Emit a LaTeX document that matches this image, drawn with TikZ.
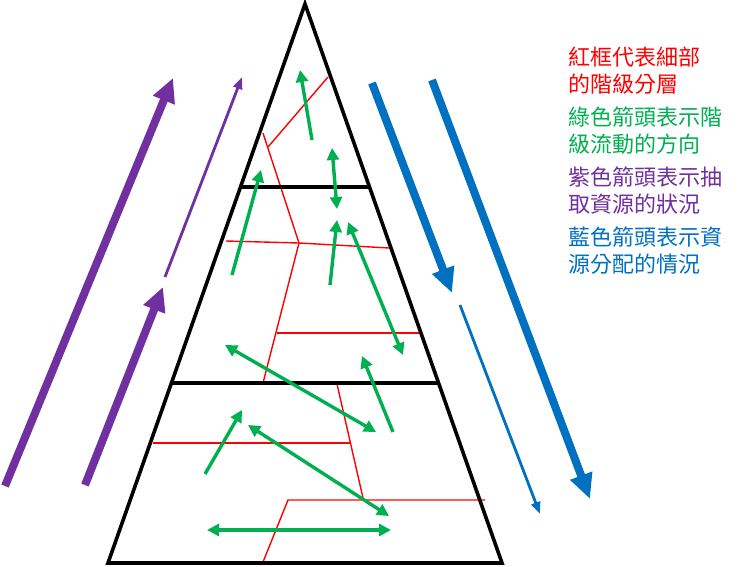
\documentclass[tikz,border=0pt]{standalone}
\usepackage{fontspec}
\newfontfamily\cjk{Noto Sans CJK TC}
\usetikzlibrary{arrows.meta}

\definecolor{detailred}{RGB}{255,0,0}
\definecolor{flowgreen}{RGB}{0,176,80}
\definecolor{takepurple}{RGB}{112,48,160}
\definecolor{giveblue}{RGB}{0,112,192}

\begin{document}
\begin{tikzpicture}[
        x=1pt, y=-1pt,
        level_line/.style={line width=3.6pt, black},
        detail_line/.style={line width=1.4pt, detailred},
        flow/.style={line width=3.4pt, flowgreen, -{Triangle[width=12pt,length=12pt]}},
        flow_both/.style={flow, {Triangle[width=12pt,length=12pt]}-{Triangle[width=12pt,length=12pt]}},
        take_big/.style={line width=8pt, takepurple, -{Triangle[width=22pt,length=24pt]}},
        take_small/.style={line width=2.8pt, takepurple, -{Triangle[width=9pt,length=12pt]}},
        give_big/.style={line width=8pt, giveblue, -{Triangle[width=22pt,length=25pt]}},
        give_small/.style={line width=2.8pt, giveblue, -{Triangle[width=9pt,length=12pt]}},
        legend/.style={anchor=west, align=left, inner sep=0pt, font=\cjk\fontsize{22}{27}\selectfont}
    ]
        \useasboundingbox (0,0) rectangle (740,566);

        % red detail lines
        \draw[detail_line] (328,77) -- (268,147);
        \draw[detail_line] (263,133) -- (299,243) -- (263,383);
        \draw[detail_line] (226,241) -- (299,243) -- (389,248);
        \draw[detail_line] (277,333) -- (422,333);
        \draw[detail_line] (153,443) -- (350,443);
        \draw[detail_line] (337,384) -- (363,498);
        \draw[detail_line] (263,562) -- (288,500) -- (485,500);

        % pyramid with its levels
        \draw[level_line] (305,4) -- (502,563) -- (108,563) -- cycle;
        \draw[level_line] (241,187) -- (369,187);
        \draw[level_line] (172,383) -- (438,383);

        % green flows between levels
        \draw[flow] (312,140) -- (300,70);
        \draw[flow] (232,275) -- (261,170);
        \draw[flow_both] (332,148) -- (337,209);
        \draw[flow] (330,285) -- (337,220);
        \draw[flow_both] (348,222) -- (403,355);
        \draw[flow_both] (225,345) -- (376,432);
        \draw[flow] (393,432) -- (362,356);
        \draw[flow] (205,474) -- (242,410);
        \draw[flow_both] (248,425) -- (389,516);
        \draw[flow_both] (207,530) -- (391,530);

        % purple: taking resources
        \draw[take_big] (5,486) -- (173,78);
        \draw[take_small] (165,277) -- (242,77);
        \draw[take_big] (85,485) -- (163,287);

        % blue: giving resources
        \draw[give_big] (372,83) -- (452,293);
        \draw[give_small] (460,305) -- (540,514);
        \draw[give_big] (432,80) -- (590,499);

        % legend
        \node[legend, detailred] (key_red) at (568,71) {紅框代表細部\\的階級分層};
        \node[legend, flowgreen] (key_green) at (568,131) {綠色箭頭表示階\\級流動的方向};
        \node[legend, takepurple] (key_purple) at (568,191) {紫色箭頭表示抽\\取資源的狀況};
        \node[legend, giveblue] (key_blue) at (568,251) {藍色箭頭表示資\\源分配的情況};

    \end{tikzpicture}
\end{document}
